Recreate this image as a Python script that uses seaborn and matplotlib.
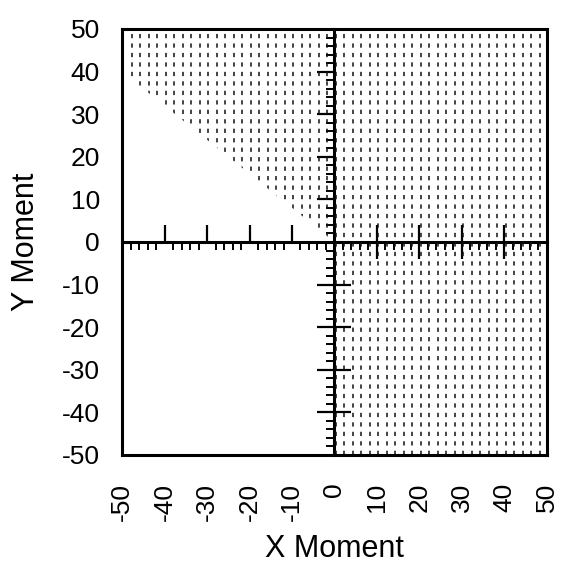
import numpy as np
import matplotlib
matplotlib.use("Agg")
import matplotlib.pyplot as plt
from matplotlib.ticker import MultipleLocator
import seaborn as sns

sns.set_theme(style="white")
plt.rcParams["font.family"] = ["Liberation Sans", "DejaVu Sans"]
plt.rcParams["axes.unicode_minus"] = False

# shaded region (x moment, y moment) corners
region_x = [-50, 0, 0, 50, 50, -50]
region_y = [40, 0, -50, -50, 50, 50]

tick_vals = [-50, -40, -30, -20, -10, 0, 10, 20, 30, 40, 50]
neg_major = [-40, -30, -20, -10]
pos_major = [10, 20, 30, 40]

fig = plt.figure(figsize=(5.61, 5.65), dpi=100)
ax = fig.add_axes([0.2175, 0.1947, 0.7575, 0.754])
ax.set_xlim(-50, 50)
ax.set_ylim(-50, 50)

# shaded area: dashed vertical hatch clipped to the region
patch = ax.fill(region_x, region_y, facecolor="none", edgecolor="none")[0]
hatch_x = np.arange(-47.7, 50, 2.0)
vl = ax.vlines(hatch_x, -50, 50, colors="#111111", linewidth=1.1,
               linestyles=(0, (2.8, 3.4)), zorder=1)
vl.set_clip_path(patch)

for s in ax.spines.values():
    s.set_visible(True)
    s.set_linewidth(2.2)
    s.set_color("black")

ax.set_xticks(tick_vals)
ax.set_yticks(tick_vals)
ax.set_xticklabels([str(v) for v in tick_vals], rotation=90)
ax.set_yticklabels([str(v) for v in tick_vals])
ax.tick_params(axis="both", length=0, labelsize=19, colors="black")
ax.tick_params(axis="x", pad=20)
ax.tick_params(axis="y", pad=16)

ax.set_xlabel("X Moment", fontsize=22, color="black")
ax.set_ylabel("Y Moment", fontsize=22, color="black")
ax.xaxis.set_label_coords(0.5, -0.185)
ax.yaxis.set_label_coords(-0.19, 0.5)


def no_labels(sec):
    sec.tick_params(labeltop=False, labelbottom=False,
                    labelleft=False, labelright=False)


# centre axes through the origin (secondary axes sit on top / right side)
secx = ax.secondary_xaxis(0.5)
for s in secx.spines.values():
    s.set_linewidth(2.2)
    s.set_color("black")
secx.set_xticks(neg_major + pos_major)
secx.xaxis.set_minor_locator(MultipleLocator(2))
secx.tick_params(which="major", direction="out", length=12, width=1.6, color="black")
secx.tick_params(which="minor", direction="in", length=6, width=1.4, color="black")
no_labels(secx)

secx2 = ax.secondary_xaxis(0.5)
for s in secx2.spines.values():
    s.set_visible(False)
secx2.set_xticks(pos_major)
secx2.tick_params(which="major", direction="in", length=12, width=1.6, color="black")
no_labels(secx2)

secy = ax.secondary_yaxis(0.5)
for s in secy.spines.values():
    s.set_linewidth(2.2)
    s.set_color("black")
secy.set_yticks(neg_major + pos_major)
secy.yaxis.set_minor_locator(MultipleLocator(2))
secy.tick_params(which="major", direction="in", length=12, width=1.6, color="black")
secy.tick_params(which="minor", direction="in", length=6, width=1.4, color="black")
no_labels(secy)

secy2 = ax.secondary_yaxis(0.5)
for s in secy2.spines.values():
    s.set_visible(False)
secy2.set_yticks(neg_major)
secy2.tick_params(which="major", direction="out", length=12, width=1.6, color="black")
no_labels(secy2)

fig.savefig("out.png", dpi=100, facecolor="white")
